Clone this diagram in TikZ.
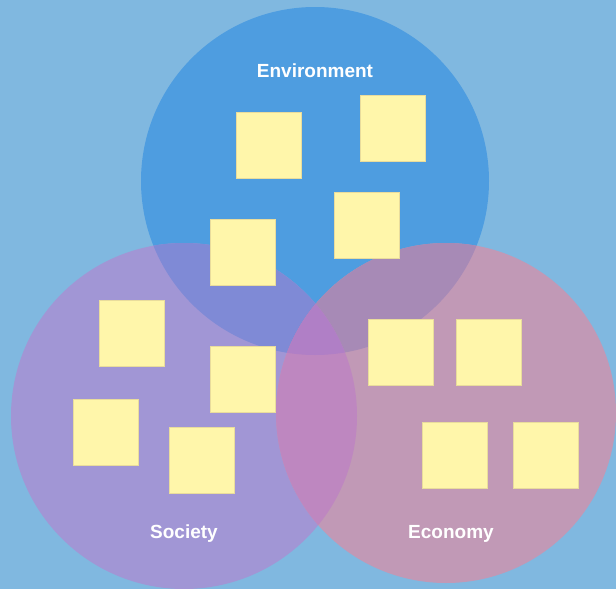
\documentclass[tikz,border=0pt]{standalone}
\usepackage{fontspec}
\setmainfont{Liberation Sans}
\definecolor{bgc}{HTML}{80B8E0}
\definecolor{envc}{HTML}{4E9DE0}
\definecolor{socc}{HTML}{A196D5}
\definecolor{ecoc}{HTML}{C199B6}
\definecolor{envsoc}{HTML}{7F8AD6}
\definecolor{enveco}{HTML}{A78AB6}
\definecolor{soceco}{HTML}{BE87C0}
\definecolor{allc}{HTML}{B07FC6}
\definecolor{notec}{HTML}{FFF6AA}
\definecolor{noteedge}{HTML}{E9DC9C}
\tikzset{
  note/.style={fill=notec, draw=noteedge, line width=0.4pt, minimum width=65pt, minimum height=66pt, inner sep=0pt},
  lbl/.style={text=white, font=\fontsize{19}{22}\selectfont\bfseries, inner sep=0pt}
}
\begin{document}
\begin{tikzpicture}[x=1pt,y=-1pt]
\useasboundingbox (0,0) rectangle (616,589);
\fill[bgc] (0,0) rectangle (616,589);
\def\envpath{(315,181) circle (174)}
\def\socpath{(184,416) circle (173)}
\def\ecopath{(446,413) circle (170)}
\fill[envc] \envpath;
\fill[socc] \socpath;
\fill[ecoc] \ecopath;
\begin{scope}
  \clip \envpath;
  \fill[envsoc] \socpath;
  \fill[enveco] \ecopath;
\end{scope}
\begin{scope}
  \clip \socpath;
  \fill[soceco] \ecopath;
\end{scope}
\begin{scope}
  \clip \envpath;
  \clip \socpath;
  \fill[allc] \ecopath;
\end{scope}
% notes
\node[note] (n1) at (269,145) {};
\node[note] (n2) at (242.5,252.5) {};
\node[note] (n3) at (392.5,128.5) {};
\node[note] (n4) at (367,225) {};
\node[note] (n5) at (131.5,333) {};
\node[note] (n6) at (242.5,379.5) {};
\node[note] (n7) at (105.5,432.5) {};
\node[note] (n8) at (201.5,460) {};
\node[note] (n9) at (400.5,352) {};
\node[note] (n10) at (488.5,352) {};
\node[note] (n11) at (455,455) {};
\node[note] (n12) at (545.5,455) {};
% labels
\node[lbl] (env) at (315,71) {Environment};
\node[lbl] (soc) at (184,534) {Society};
\node[lbl] (eco) at (451,534) {Economy};
\end{tikzpicture}
\end{document}
